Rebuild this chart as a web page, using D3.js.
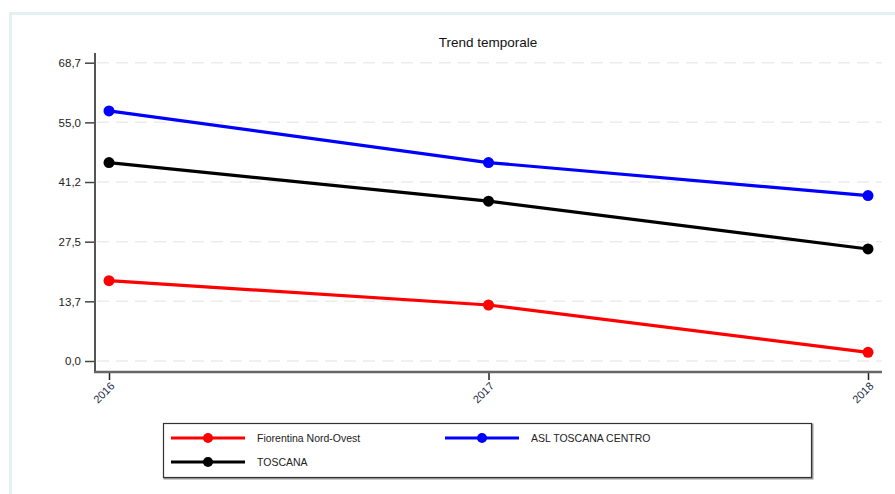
<!DOCTYPE html>
<html><head><meta charset="utf-8">
<script src="https://cdn.jsdelivr.net/npm/d3@7"></script>
<style>
html,body{margin:0;padding:0;background:#fff;}
svg{display:block;font-family:"Liberation Sans",Arial,sans-serif;}
</style></head>
<body>
<script>
const years = ["2016", "2017", "2018"];
const fiorentina = [18.5, 12.9, 2.0];
const aslCentro = [57.6, 45.7, 38.1];
const toscana = [45.7, 36.8, 25.8];
const yTicks = [0, 13.74, 27.48, 41.22, 54.96, 68.7];
const seriesNames = ["Fiorentina Nord-Ovest", "ASL TOSCANA CENTRO", "TOSCANA"];
const seriesColors = ["#ff0000", "#0000ff", "#000000"];
const title = "Trend temporale";

const W = 895, H = 494;
const svg = d3.select("body").append("svg").attr("width", W).attr("height", H);

// outer frame
svg.append("rect").attr("x", 10.5).attr("y", 13.5).attr("width", W).attr("height", H)
  .attr("fill", "#fff").attr("stroke", "#e6f0f0").attr("stroke-width", 3);

const x = d3.scalePoint().domain(years).range([109, 868]);
const y = d3.scaleLinear().domain([0, 68.7]).range([361, 62.7]);
const xLeft = 95, xRight = 882, yBottom = 372, yTop = 53;

// grid
svg.append("g").selectAll("line").data(yTicks).join("line")
  .attr("x1", xLeft + 2).attr("x2", xRight).attr("y1", d => y(d)).attr("y2", d => y(d))
  .attr("stroke", "#ececec").attr("stroke-width", 1.5).attr("stroke-dasharray", "12,7");

// y axis
const fmt = d => d3.format(".1f")(d).replace(".", ",");
const yAxis = d3.axisLeft(y).tickValues(yTicks).tickFormat(fmt).tickSize(10).tickPadding(4);
const gy = svg.append("g").attr("transform", `translate(${xLeft},0)`).call(yAxis);
gy.select(".domain").remove();
gy.selectAll(".tick line").attr("stroke", "#444").attr("stroke-width", 1.5);
gy.selectAll(".tick text").attr("fill", "#222").style("font-size", "11.5px").style("font-family", "Liberation Sans, Arial, sans-serif");
svg.append("line").attr("x1", xLeft).attr("x2", xLeft).attr("y1", yTop).attr("y2", yBottom + 1)
  .attr("stroke", "#555").attr("stroke-width", 2);

// x axis
const xAxis = d3.axisBottom(x).tickSize(8).tickPadding(3);
const gx = svg.append("g").attr("transform", `translate(0,${yBottom})`).call(xAxis);
gx.select(".domain").remove();
gx.selectAll(".tick line").attr("stroke", "#222").attr("stroke-width", 1.5);
gx.selectAll(".tick text").attr("fill", "#1b2a4a").style("font-size", "11px")
  .style("font-family", "Liberation Sans, Arial, sans-serif")
  .attr("text-anchor", "end").attr("x", 0).attr("y", 0).attr("dy", "0.35em")
  .attr("transform", "translate(3,12) rotate(-45)");
svg.append("line").attr("x1", xLeft - 1).attr("x2", xRight).attr("y1", yBottom).attr("y2", yBottom)
  .attr("stroke", "#666").attr("stroke-width", 2.5);

// title
svg.append("text").attr("x", 488).attr("y", 47).attr("text-anchor", "middle")
  .style("font-size", "13.5px").attr("fill", "#111").text(title);

// series
const allSeries = [fiorentina, aslCentro, toscana];
const line = d3.line().x((d, i) => x(years[i])).y(d => y(d));
[0, 2, 1].forEach(k => {
  const g = svg.append("g");
  g.append("path").datum(allSeries[k]).attr("d", line).attr("fill", "none")
    .attr("stroke", seriesColors[k]).attr("stroke-width", 3.2).attr("stroke-linejoin", "round");
  g.selectAll("circle").data(allSeries[k]).join("circle")
    .attr("cx", (d, i) => x(years[i])).attr("cy", d => y(d)).attr("r", 5.5)
    .attr("fill", seriesColors[k]);
});

// legend
const lg = svg.append("g");
lg.append("rect").attr("x", 164.5).attr("y", 424.5).attr("width", 648).attr("height", 54)
  .attr("fill", "none").attr("stroke", "#999").attr("stroke-width", 2);
lg.append("rect").attr("x", 163.5).attr("y", 423.5).attr("width", 648).attr("height", 54)
  .attr("fill", "#fff").attr("stroke", "#333").attr("stroke-width", 1.2);
const legPos = [[171, 438], [445, 438], [171, 462]];
seriesNames.forEach((name, k) => {
  const [lx, ly] = legPos[k];
  lg.append("line").attr("x1", lx).attr("x2", lx + 74).attr("y1", ly).attr("y2", ly)
    .attr("stroke", seriesColors[k]).attr("stroke-width", 3);
  lg.append("circle").attr("cx", lx + 37).attr("cy", ly).attr("r", 5).attr("fill", seriesColors[k]);
  lg.append("text").attr("x", lx + 86).attr("y", ly + 4).style("font-size", "10.5px")
    .attr("fill", "#222").text(name);
});
</script>
</body></html>
